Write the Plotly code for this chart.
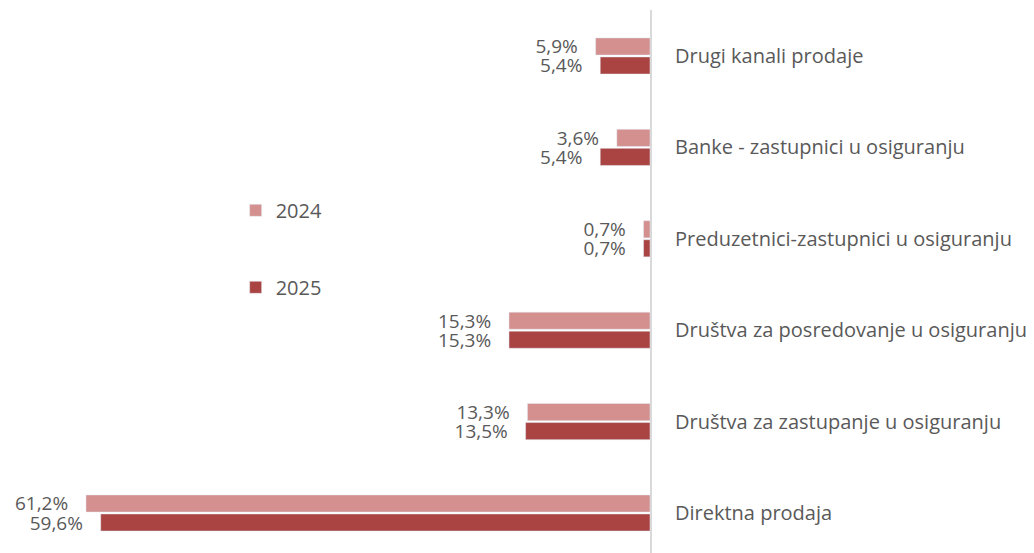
import plotly.graph_objects as go

categories = [
    "Direktna prodaja",
    "Društva za zastupanje u osiguranju",
    "Društva za posredovanje u osiguranju",
    "Preduzetnici-zastupnici u osiguranju",
    "Banke - zastupnici u osiguranju",
    "Drugi kanali prodaje",
]
values_2024 = [61.2, 13.3, 15.3, 0.7, 3.6, 5.9]
values_2025 = [59.6, 13.5, 15.3, 0.7, 5.4, 5.4]

PAD = "\u00a0\u00a0\u00a0"

def fmt(v):
    return f"{v:.1f}%".replace(".", ",") + PAD

font_family = "'Open Sans', sans-serif"
gray = "#595959"

fig = go.Figure()
fig.add_trace(go.Bar(
    y=categories, x=values_2025, orientation="h", name="2025",
    marker=dict(color="#A94442"),
    text=[fmt(v) for v in values_2025], textposition="outside",
    textfont=dict(size=19, color=gray, family=font_family),
    cliponaxis=False, legendgroup="b", legendrank=2,
))
fig.add_trace(go.Bar(
    y=categories, x=values_2024, orientation="h", name="2024",
    marker=dict(color="#D48F8F"),
    text=[fmt(v) for v in values_2024], textposition="outside",
    textfont=dict(size=19, color=gray, family=font_family),
    cliponaxis=False, legendgroup="a", legendrank=1,
))

fig.update_layout(
    width=1034, height=553,
    margin=dict(l=0, r=392, t=2, b=8),
    paper_bgcolor="white", plot_bgcolor="white",
    barmode="group", bargap=0.584, bargroupgap=0.1,
    uniformtext=dict(minsize=19, mode="show"),
    font=dict(family=font_family, color=gray, size=18),
    xaxis=dict(range=[69.66, 0], showgrid=False, zeroline=False,
               showticklabels=False, showline=False, fixedrange=True),
    yaxis=dict(side="right", categoryorder="array", categoryarray=categories,
               range=[-0.4376, 5.503], showgrid=False, zeroline=False,
               showline=True, linecolor="#D9D9D9", linewidth=2,
               ticks="", ticklabelstandoff=19, automargin=False,
               tickfont=dict(size=20, color=gray, family=font_family)),
    showlegend=True,
    legend=dict(x=0.3546, y=0.667, xanchor="left", yanchor="top",
                traceorder="grouped", tracegroupgap=48,
                font=dict(size=20, color=gray, family=font_family),
                bgcolor="rgba(0,0,0,0)", itemwidth=30),
)

fig.write_html("out.html")
